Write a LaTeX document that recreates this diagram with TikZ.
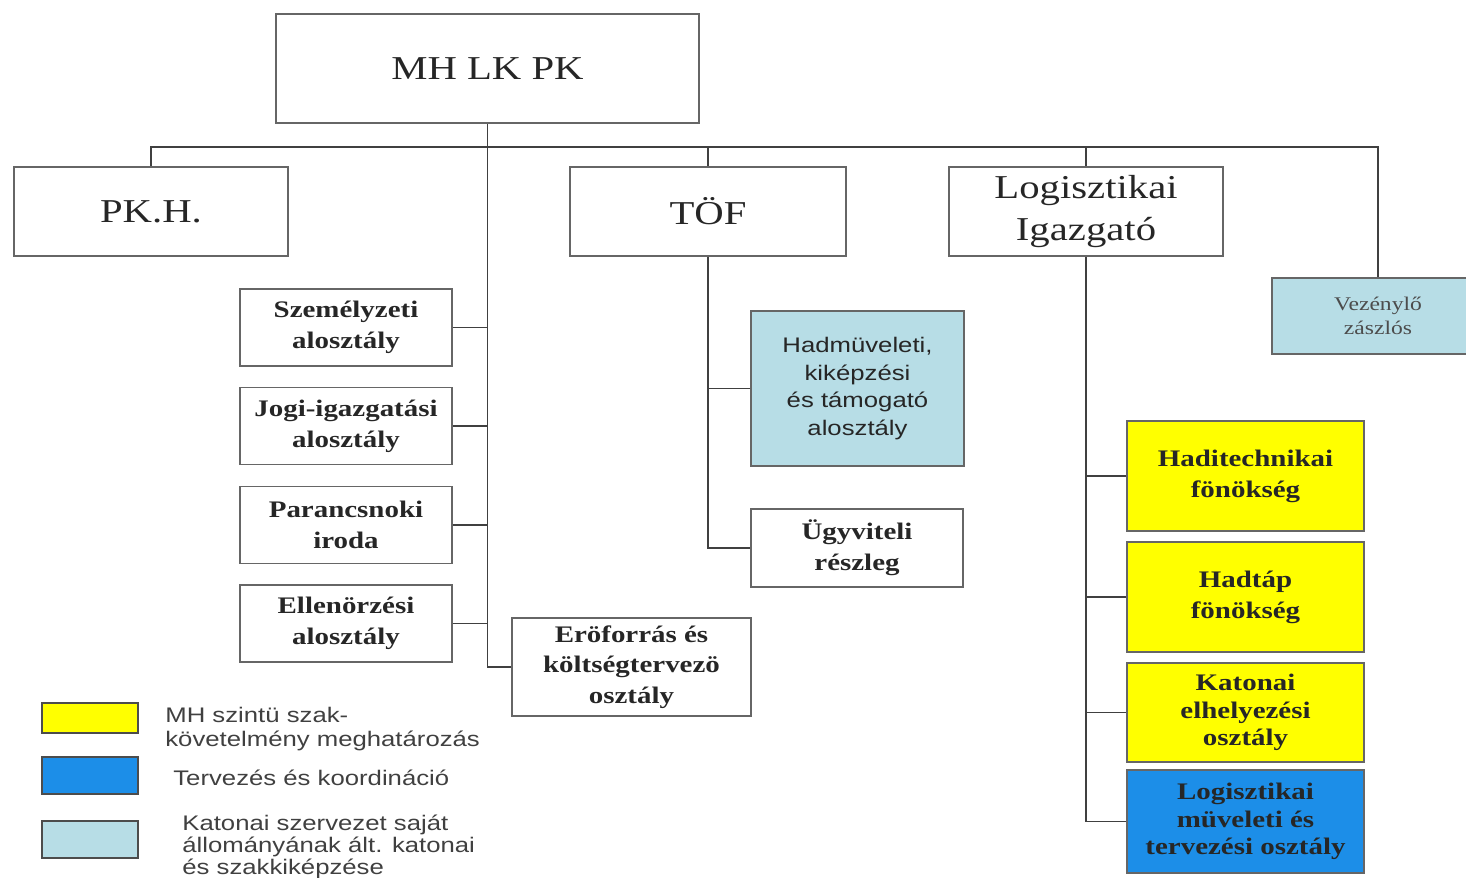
\documentclass[tikz,border=0pt]{standalone}
\usepackage{fontspec}
\setmainfont{Liberation Serif}[FakeStretch=1.22]
\setsansfont{Liberation Sans}[FakeStretch=1.22]
\usepackage{xcolor}
\usepackage{tikz}
\usetikzlibrary{arrows}
\definecolor{hmyellow}{RGB}{255,255,0}
\definecolor{hmblue}{RGB}{28,142,232}
\definecolor{hmpale}{RGB}{183,221,230}

\begin{document}
\begin{tikzpicture}[x=0.02cm, y=-0.02cm,
	box/.style={draw=black!60, line width=1.1pt, inner sep=0pt, align=center, text=black!85},
	head/.style={box, font=\fontsize{19}{24}\selectfont},
	unit/.style={box, font=\bfseries\fontsize{13.5}{17.5}\selectfont},
	unitthree/.style={box, font=\bfseries\fontsize{13.5}{15.5}\selectfont},
	sansunit/.style={box, font=\sffamily\fontsize{12}{15.7}\selectfont},
	smallunit/.style={box, font=\fontsize{11}{14}\selectfont, text=black!70},
	swatch/.style={draw=black!70, line width=0.9pt, inner sep=0pt},
	legtext/.style={inner sep=0pt, anchor=west, align=left, text=black!75, font=\sffamily\fontsize{12}{13.5}\selectfont},
	link/.style={draw=black!75, line width=0.8pt}]
	 \useasboundingbox (0,0) rectangle (1466,877);
	 \clip (0,0) rectangle (1466,877);
	 \node (mhlkpk) [head, minimum width=8.46cm, minimum height=2.18cm] at (487.5,68.5) {MH LK PK};
	 \node (pkh) [head, minimum width=5.48cm, minimum height=1.78cm] at (151,211.5) {PK.H.};
	 \node (tof) [head, minimum width=5.52cm, minimum height=1.78cm] at (708,211.5) {TÖF};
	 \node (logig) [head, minimum width=5.48cm, minimum height=1.78cm] at (1086,211.5) {Logisztikai\\Igazgató};
	 \node (vez) [smallunit, fill=hmpale, minimum width=4.24cm, minimum height=1.52cm] at (1378,316) {Vezénylő\\zászlós};
	 \node (szem) [unit, minimum width=4.24cm, minimum height=1.54cm] at (346,327.5) {Személyzeti\\alosztály};
	 \node (jogi) [unit, minimum width=4.24cm, minimum height=1.54cm] at (346,426) {Jogi-igazgatási\\alosztály};
	 \node (parancs) [unit, minimum width=4.24cm, minimum height=1.54cm] at (346,525) {Parancsnoki\\iroda};
	 \node (ellen) [unit, minimum width=4.24cm, minimum height=1.54cm] at (346,623.5) {Ellenörzési\\alosztály};
	 \node (erof) [unit, minimum width=4.78cm, minimum height=1.96cm] at (631.5,667) {Eröforrás és\\költségtervezö\\osztály};
	 \node (hadm) [sansunit, fill=hmpale, minimum width=4.26cm, minimum height=3.1cm] at (857.5,388.5) {Hadmüveleti,\\kiképzési\\és támogató\\alosztály};
	 \node (ugyv) [unit, minimum width=4.24cm, minimum height=1.56cm] at (857,548) {Ügyviteli\\részleg};
	 \node (hadit) [unit, fill=hmyellow, minimum width=4.74cm, minimum height=2.2cm] at (1245.5,476) {Haditechnikai\\fönökség};
	 \node (hadtap) [unit, fill=hmyellow, minimum width=4.74cm, minimum height=2.2cm] at (1245.5,597) {Hadtáp\\fönökség};
	 \node (katel) [unitthree, fill=hmyellow, minimum width=4.74cm, minimum height=1.98cm] at (1245.5,712.5) {Katonai\\elhelyezési\\osztály};
	 \node (logmuv) [unitthree, fill=hmblue, minimum width=4.74cm, minimum height=2.06cm] at (1245.5,821.5) {Logisztikai\\müveleti és\\tervezési osztály};
	 \node (legy) [swatch, fill=hmyellow, minimum width=1.92cm, minimum height=0.6cm] at (90,718) {};
	 \node (legb) [swatch, fill=hmblue, minimum width=1.92cm, minimum height=0.74cm] at (90,775.5) {};
	 \node (legp) [swatch, fill=hmpale, minimum width=1.92cm, minimum height=0.74cm] at (90,839.5) {};
	 \node (legytext) [legtext] at (165,729) {MH szintü szak-\\követelmény meghatározás};
	 \node (legbtext) [legtext] at (173,778) {Tervezés és koordináció};
	 \node (legptext) [legtext, font=\sffamily\fontsize{12}{12.5}\selectfont] at (182,847) {Katonai szervezet saját\\állományának ált. katonai\\és szakkiképzése};
	 \coordinate (bus) at (487.5,147);
	 \draw[link] (mhlkpk.south) |- (erof.west);
	 \draw[link] (pkh.north) |- (bus) -| (vez.north);
	 \draw[link] (tof.north) -- (tof.north |- bus);
	 \draw[link] (logig.north) -- (logig.north |- bus);
	 \draw[link] (szem.east) -- (szem.east -| mhlkpk.south);
	 \draw[link] (jogi.east) -- (jogi.east -| mhlkpk.south);
	 \draw[link] (parancs.east) -- (parancs.east -| mhlkpk.south);
	 \draw[link] (ellen.east) -- (ellen.east -| mhlkpk.south);
	 \draw[link] (tof.south) |- (ugyv.west);
	 \draw[link] (hadm.west) -- (hadm.west -| tof.south);
	 \draw[link] (logig.south) |- (logmuv.west);
	 \draw[link] (hadit.west) -- (hadit.west -| logig.south);
	 \draw[link] (hadtap.west) -- (hadtap.west -| logig.south);
	 \draw[link] (katel.west) -- (katel.west -| logig.south);
\end{tikzpicture}
\end{document}
